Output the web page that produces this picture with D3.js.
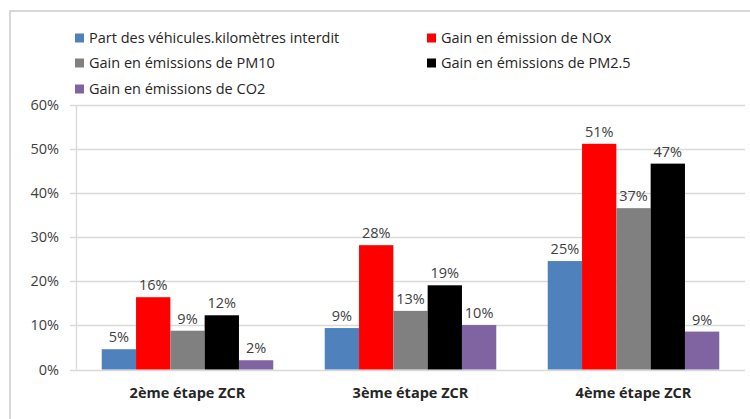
<!DOCTYPE html>
<html>
<head>
<meta charset="utf-8">
<script src="https://cdn.jsdelivr.net/npm/d3@7"></script>
<style>
  html, body { margin: 0; padding: 0; background: #fff; }
  svg { display: block; font-family: "Open Sans", Lato, sans-serif; }
</style>
</head>
<body>
<svg id="chart" width="750" height="419"></svg>
<script>
// Stages of the low-emission zone (ZCR)
const categories = ["2ème étape ZCR", "3ème étape ZCR", "4ème étape ZCR"];

// Series names, in legend/bar order
const seriesNames = [
  "Part des véhicules.kilomètres interdit",
  "Gain en émission de NOx",
  "Gain en émissions de PM10",
  "Gain en émissions de PM2.5",
  "Gain en émissions de CO2"
];

// Values per series, one per stage (fractions)
const partVehKm = [0.046, 0.094, 0.246];
const gainNOx   = [0.164, 0.282, 0.512];
const gainPM10  = [0.088, 0.133, 0.366];
const gainPM25  = [0.123, 0.191, 0.467];
const gainCO2   = [0.021, 0.101, 0.086];

const seriesColors = ["#4f81bd", "#ff0000", "#808080", "#000000", "#8064a2"];

// Y axis ticks
const yTicks = [0, 0.1, 0.2, 0.3, 0.4, 0.5, 0.6];

const seriesValues = [partVehKm, gainNOx, gainPM10, gainPM25, gainCO2];
const rows = categories.map((c, i) => ({
  cat: c,
  vals: seriesValues.map((s, j) => ({ key: seriesNames[j], value: s[i], color: seriesColors[j] }))
}));

const svg = d3.select("#chart");
const plotLeft = 76, plotRight = 745, plotTop = 105, plotBottom = 369.5;
const fs = 14.5;

// Outer frame
svg.append("rect")
  .attr("x", 10).attr("y", 11)
  .attr("width", 760).attr("height", 430)
  .attr("fill", "none").attr("stroke", "#cfcfcf").attr("stroke-width", 1.6);

// One band per stage; 5 bars per group with a gap of 1.5 bar widths
const step = (plotRight - plotLeft) / categories.length;
const barW = step / 6.5;
const xGroup = d3.scaleBand().domain(categories).range([plotLeft, plotRight]).padding(0);
const xInner = d3.scaleBand().domain(seriesNames).range([0.75 * barW, 5.75 * barW]).padding(0);

const y = d3.scaleLinear().domain([0, 0.6]).range([plotBottom, plotTop]);

// Gridlines
svg.append("g")
  .selectAll("line").data(yTicks).join("line")
  .attr("x1", 70).attr("x2", plotRight)
  .attr("y1", d => Math.round(y(d)) + 0.5).attr("y2", d => Math.round(y(d)) + 0.5)
  .attr("stroke", "#d9d9d9").attr("stroke-width", 1.3);

// Y axis line
svg.append("line")
  .attr("x1", plotLeft + 0.5).attr("x2", plotLeft + 0.5)
  .attr("y1", y(0.6)).attr("y2", plotBottom)
  .attr("stroke", "#d9d9d9").attr("stroke-width", 1.3);

// Y tick labels
svg.append("g")
  .selectAll("text").data(yTicks).join("text")
  .attr("x", 59).attr("y", d => y(d))
  .attr("dy", "0.35em")
  .attr("text-anchor", "end")
  .attr("font-size", fs)
  .attr("fill", "#404040")
  .text(d3.format(".0%"));

// Bars
const groups = svg.append("g").selectAll("g").data(rows).join("g")
  .attr("transform", d => `translate(${xGroup(d.cat)},0)`);

groups.selectAll("rect").data(d => d.vals).join("rect")
  .attr("x", d => xInner(d.key))
  .attr("width", xInner.bandwidth())
  .attr("y", d => y(d.value))
  .attr("height", d => plotBottom - y(d.value))
  .attr("fill", d => d.color);

// Value labels
groups.selectAll("text").data(d => d.vals).join("text")
  .attr("x", d => xInner(d.key) + xInner.bandwidth() / 2)
  .attr("y", d => y(d.value) - 7)
  .attr("text-anchor", "middle")
  .attr("font-size", fs)
  .attr("fill", "#404040")
  .text(d => d3.format(".0%")(d.value));

// Category labels
svg.append("g").selectAll("text").data(categories).join("text")
  .attr("x", d => xGroup(d) + xGroup.bandwidth() / 2)
  .attr("y", 393)
  .attr("dy", "0.35em")
  .attr("text-anchor", "middle")
  .attr("font-size", fs)
  .attr("font-weight", "bold")
  .attr("fill", "#262626")
  .text(d => d);

// Legend: two columns, three rows
const legendPos = [
  [75, 38], [427, 38],
  [75, 63], [427, 63],
  [75, 89]
];
const legend = svg.append("g").selectAll("g").data(seriesNames).join("g")
  .attr("transform", (d, i) => `translate(${legendPos[i][0]},${legendPos[i][1]})`);
legend.append("rect")
  .attr("x", 0).attr("y", -4.5).attr("width", 9).attr("height", 9)
  .attr("fill", (d, i) => seriesColors[i]);
legend.append("text")
  .attr("x", 14).attr("y", 0).attr("dy", "0.35em")
  .attr("font-size", fs)
  .attr("fill", "#262626")
  .text(d => d);
</script>
</body>
</html>
